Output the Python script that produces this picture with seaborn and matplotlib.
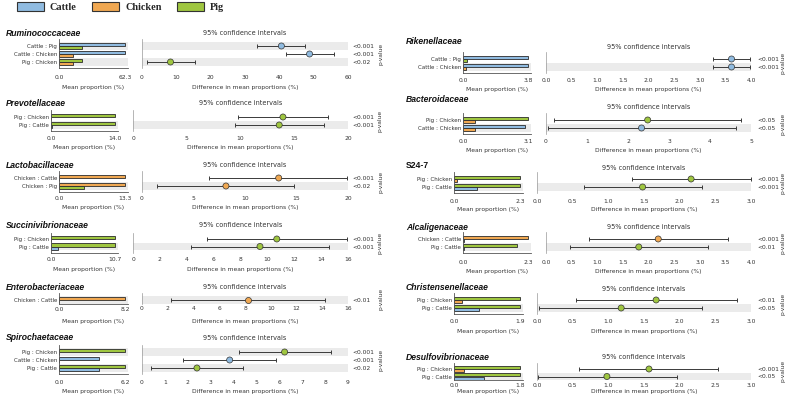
import numpy as np
import pandas as pd
import matplotlib
matplotlib.use('Agg')
import matplotlib.pyplot as plt
import seaborn as sns
from matplotlib.patches import Patch

# -----------------------------
# Data
# -----------------------------
families = ['Ruminococcaceae', 'Prevotellaceae', 'Lactobacillaceae', 'Succinivibrionaceae',
            'Enterobacteriaceae', 'Spirochaetaceae', 'Rikenellaceae', 'Bacteroidaceae',
            'S24-7', 'Alcaligenaceae', 'Christensenellaceae', 'Desulfovibrionaceae']

pairs = [
    ['Cattle : Pig', 'Cattle : Chicken', 'Pig : Chicken'],
    ['Pig : Chicken', 'Pig : Cattle'],
    ['Chicken : Cattle', 'Chicken : Pig'],
    ['Pig : Chicken', 'Pig : Cattle'],
    ['Chicken : Cattle'],
    ['Pig : Chicken', 'Cattle : Chicken', 'Pig : Cattle'],
    ['Cattle : Pig', 'Cattle : Chicken'],
    ['Pig : Chicken', 'Cattle : Chicken'],
    ['Pig : Chicken', 'Pig : Cattle'],
    ['Chicken : Cattle', 'Pig : Cattle'],
    ['Pig : Chicken', 'Pig : Cattle'],
    ['Pig : Chicken', 'Pig : Cattle'],
]

# mean proportion (%) of first / second group of each pair
mean_first = [[62.3, 62.3, 21.9], [14.0, 14.0], [13.3, 13.3], [10.7, 10.7], [8.2],
              [6.2, 3.8, 6.2], [3.8, 3.8], [3.1, 2.97], [2.3, 2.3], [2.3, 1.92],
              [1.9, 1.9], [1.8, 1.8]]
mean_second = [[21.9, 13.4, 13.4], [0.0, 0.2], [0.0, 5.1], [0.0, 1.2], [0.0],
               [0.0, 0.0, 3.8], [0.25, 0.2], [0.59, 0.59], [0.12, 0.81], [0.05, 0.05],
               [0.24, 0.72], [0.27, 0.83]]

# difference in mean proportions and 95% CI
diff = [[40.6, 48.8, 8.3], [13.95, 13.6], [13.27, 8.15], [10.7, 9.45], [8.2],
        [6.23, 3.83, 2.4], [3.62, 3.62], [2.48, 2.33], [2.16, 1.48], [2.19, 1.81],
        [1.67, 1.18], [1.57, 0.98]]
ci_low = [[33.4, 41.9, 1.5], [9.8, 9.5], [6.5, 1.46], [5.5, 4.3], [2.25],
          [4.24, 1.8, 0.39], [3.25, 3.25], [0.19, 0.04], [1.33, 0.66], [0.84, 0.46],
          [0.54, 0.03], [0.59, 0.01]]
ci_high = [[47.6, 55.8, 15.3], [18.1, 17.8], [19.9, 14.8], [15.9, 14.6], [14.25],
           [8.25, 5.84, 4.4], [3.99, 3.99], [4.75, 4.63], [3.0, 2.31], [3.55, 3.16],
           [2.81, 2.31], [2.54, 1.96]]
p_values = [['<0.001', '<0.001', '<0.02'], ['<0.001', '<0.001'], ['<0.001', '<0.02'],
            ['<0.001', '<0.001'], ['<0.01'], ['<0.001', '<0.001', '<0.02'],
            ['<0.001', '<0.001'], ['<0.05', '<0.05'], ['<0.001', '<0.001'],
            ['<0.001', '<0.01'], ['<0.01', '<0.05'], ['<0.001', '<0.05']]

bar_max = [62.3, 14.0, 13.3, 10.7, 8.2, 6.2, 3.8, 3.1, 2.3, 2.3, 1.9, 1.8]
ci_max = [60, 20, 20, 16, 16, 9, 4.0, 5, 3.0, 4.0, 3.0, 3.0]
ci_step = [10, 5, 5, 2, 2, 1, 0.5, 1, 0.5, 0.5, 0.5, 0.5]

groups = ['Cattle', 'Chicken', 'Pig']
colors = {'Cattle': '#90bbe0', 'Chicken': '#f0a852', 'Pig': '#9fc640'}

# -----------------------------
# Layout (pixels)
# -----------------------------
W, H = 789, 397
# bar 0, bar max, ci left, ci right, title x, p-value x, p-label x
geo = {'A': (59, 125, 142, 348, 6, 352, 378),
       'B': (51, 115, 133, 348, 6, 352, 378),
       'C': (463, 528, 546, 751, 406, 757, 780),
       'D': (454, 520, 537, 751, 406, 757, 780)}
# geometry, title y, ci-title y, first row y, row step, tick label y, xlabel y
panel_layout = [
    ('A', 33, 33, 46, 8, 77, 87),
    ('B', 103, 103, 117, 8, 138, 147),
    ('A', 165, 165, 178, 8, 198, 207),
    ('B', 225, 225, 239, 7.5, 259, 269),
    ('A', 287, 287, 300, 8, 308, 321),
    ('A', 338, 338, 352, 8, 382, 391),
    ('C', 41, 47, 59, 8, 80, 90),
    ('C', 100, 107, 120, 8, 141, 150),
    ('D', 166, 168, 179, 8, 201, 210),
    ('C', 227, 227, 239, 8, 262, 271),
    ('D', 288, 289, 300, 8, 321, 331),
    ('D', 357, 357, 369, 7.5, 383, 391),
]

sns.set_style('white')
plt.rcParams['font.family'] = ['DejaVu Sans']
TXT = '#333333'
SHADE = '#ebebeb'
FS = 4.3

fig = plt.figure(figsize=(W / 100, H / 100), dpi=100)


def rect(x0, x1, top, bottom):
    return [x0 / W, 1 - bottom / H, (x1 - x0) / W, (bottom - top) / H]


for i, fam in enumerate(families):
    key, ty, cty, r0, step, tky, xly = panel_layout[i]
    b0, bm, c0, c1, tx, pvx, plx = geo[key]
    n = len(pairs[i])
    tpad = 0.85
    last = r0 + (n - 1) * step
    bpad = max(0.5, min(0.8, (tky - 4 - last) / step))
    top = r0 - tpad * step
    bottom = last + bpad * step
    ylim = (n - 1 + bpad, -tpad)
    ypos = np.arange(n)
    tick_pad = max(0.3, (tky - 2.3 - bottom - 2) * 0.72)

    # ---------- mean proportion bars ----------
    bar_right = bm + 3
    ax_bar = fig.add_axes(rect(b0, bar_right, top, bottom))
    rows = []
    for j, pr in enumerate(pairs[i]):
        g1, g2 = pr.split(' : ')
        rows.append({'pair': pr, 'slot': 'first', 'group': g1, 'value': mean_first[i][j]})
        rows.append({'pair': pr, 'slot': 'second', 'group': g2, 'value': mean_second[i][j]})
    df = pd.DataFrame(rows)
    sns.barplot(data=df, x='value', y='pair', hue='slot', order=pairs[i],
                hue_order=['first', 'second'], orient='h', dodge=True, width=0.84,
                errorbar=None, legend=False, ax=ax_bar, edgecolor='#2b2b2b', linewidth=0.6)
    for p in ax_bar.patches:
        yc = p.get_y() + p.get_height() / 2
        j = int(round(yc))
        slot = 'first' if yc < j else 'second'
        grp = df[(df['pair'] == pairs[i][j]) & (df['slot'] == slot)]['group'].iloc[0]
        p.set_facecolor(colors[grp])
        p.set_zorder(2)
    for j in range(n):
        if (n - 1 - j) % 2 == 0:
            ax_bar.axhspan(j - 0.5, j + 0.5, color=SHADE, lw=0, zorder=0)
    ax_bar.set_xlim(0, bar_max[i] * (bar_right - b0) / (bm - b0))
    ax_bar.set_ylim(ylim)
    ax_bar.set_xticks([0, bar_max[i]])
    ax_bar.set_xticklabels(['0.0', f'{bar_max[i]:.1f}'])
    ax_bar.set_xlabel('')
    ax_bar.set_ylabel('')
    for s in ['top', 'right']:
        ax_bar.spines[s].set_visible(False)
    for s in ['left', 'bottom']:
        ax_bar.spines[s].set_color('#555555')
        ax_bar.spines[s].set_linewidth(0.6)
    ax_bar.tick_params(axis='x', length=2, width=0.5, labelsize=FS, pad=tick_pad,
                       colors='#555555', labelcolor=TXT)
    ax_bar.tick_params(axis='y', length=0, labelsize=4.0, pad=1.5, labelcolor=TXT)
    fig.text((b0 + bar_right) / 2 / W, 1 - xly / H, 'Mean proportion (%)',
             ha='center', va='center', fontsize=FS, color=TXT)

    # ---------- difference with 95% CI ----------
    ax_ci = fig.add_axes(rect(c0, c1, top, bottom))
    for j in range(n):
        if (n - 1 - j) % 2 == 0:
            ax_ci.axhspan(j - 0.5, j + 0.5, color=SHADE, lw=0, zorder=0)
    d = np.array(diff[i])
    lo = np.array(ci_low[i])
    hi = np.array(ci_high[i])
    ax_ci.errorbar(d, ypos, xerr=[d - lo, hi - d], fmt='none', ecolor='#3a3a3a',
                   elinewidth=0.7, capsize=1.6, capthick=0.7, zorder=2)
    firsts = [pr.split(' : ')[0] for pr in pairs[i]]
    sns.scatterplot(x=d, y=ypos, hue=firsts, palette=colors, s=19, edgecolor='#333333',
                    linewidth=0.5, legend=False, ax=ax_ci, zorder=3)
    ax_ci.set_xlim(0, ci_max[i])
    ax_ci.set_ylim(ylim)
    ticks = np.arange(0, ci_max[i] + ci_step[i] / 2, ci_step[i])
    ax_ci.set_xticks(ticks)
    if ci_step[i] >= 1:
        ax_ci.set_xticklabels([f'{t:.0f}' for t in ticks])
    else:
        ax_ci.set_xticklabels([f'{t:.1f}' for t in ticks])
    ax_ci.set_yticks([])
    for s in ['top', 'right', 'bottom']:
        ax_ci.spines[s].set_visible(False)
    ax_ci.spines['left'].set_color('#999999')
    ax_ci.spines['left'].set_linewidth(0.5)
    ax_ci.tick_params(axis='x', length=0, labelsize=FS, pad=tick_pad + 1.4, labelcolor=TXT)
    fig.text((c0 + c1) / 2 / W, 1 - cty / H, '95% confidence intervals',
             ha='center', va='center', fontsize=4.7, color=TXT)
    fig.text((c0 + c1) / 2 / W, 1 - xly / H, 'Difference in mean proportions (%)',
             ha='center', va='center', fontsize=FS, color=TXT)

    # p-values on the right
    ax_p = ax_ci.twinx()
    ax_p.set_ylim(ylim)
    ax_p.set_yticks(ypos)
    ax_p.set_yticklabels(p_values[i])
    ax_p.tick_params(axis='y', length=0, labelsize=FS, pad=(pvx - c1) * 0.72, labelcolor=TXT)
    for s in ax_p.spines.values():
        s.set_visible(False)
    ax_p.set_ylabel('p-value', fontsize=FS, color=TXT)
    ax_p.yaxis.set_label_coords((plx - c0) / (c1 - c0), 0.5)

    # family title
    fig.text(tx / W, 1 - ty / H, fam, ha='left', va='center', fontsize=6.2,
             fontweight='bold', style='normal' if fam == 'S24-7' else 'italic',
             family='Liberation Sans', color='#111111')

# legend
handles = [Patch(facecolor=colors[g], edgecolor='#333333', linewidth=0.8) for g in groups]
fig.legend(handles, groups, loc='upper left', bbox_to_anchor=(17 / W, 1 - 1.5 / H), ncol=3,
           frameon=False, prop={'family': 'Liberation Serif', 'weight': 'bold', 'size': 7.4},
           handlelength=2.6, handleheight=1.1, handletextpad=0.6, columnspacing=1.5,
           borderpad=0, borderaxespad=0)

plt.savefig('out.png', dpi=100)
